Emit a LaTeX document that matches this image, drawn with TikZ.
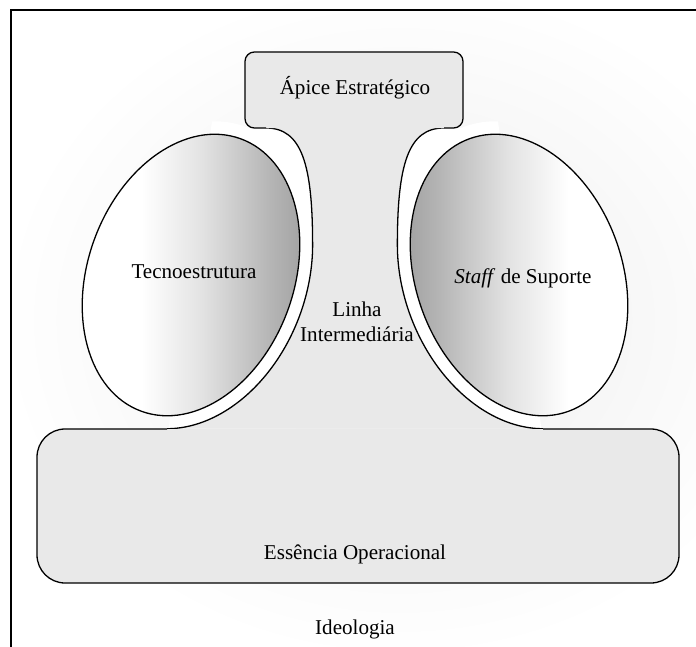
\documentclass[tikz,border=0pt]{standalone}
\usepackage{fontspec}
\setmainfont{Liberation Serif}
\pgfdeclarehorizontalshading{techshade}{100bp}{color(0bp)=(white); color(25bp)=(white); color(40bp)=(white); color(52bp)=(gray!22); color(66bp)=(gray!58); color(75bp)=(gray!78); color(100bp)=(gray!78)}

\begin{document}
\begin{tikzpicture}[x=0.03cm,y=-0.03cm,line width=1.1pt,
	part/.style={fill=gray!17},
	txt/.style={font=\fontsize{18}{21}\selectfont,align=center,inner sep=0pt}]
	\useasboundingbox (0,0) rectangle (696,647);
	\coordinate (lc) at (191,275);
	\coordinate (rc) at (519,275);
	% background
		\shade[inner color=gray!14,outer color=white] (400,320) ellipse [x radius=400, y radius=340];
	% white gaps round the ellipses (inner side only)
		\begin{scope}
			\clip (215,100) -- (167,440) -- (355,440) -- (355,100) -- cycle;
			\fill[white,rotate around={-20:(lc)}] (lc) ellipse [x radius=116, y radius=158];
		\end{scope}
		\begin{scope}
			\clip (495,100) -- (543,440) -- (355,440) -- (355,100) -- cycle;
			\fill[white,rotate around={20:(rc)}] (rc) ellipse [x radius=116, y radius=158];
		\end{scope}
		\fill[white] (240,128) -- (266,128) .. controls (302,128) and (312.6,165) .. (312.6,244.6) -- (240,244.6) -- cycle;
		\fill[white] (470,128) -- (444,128) .. controls (408,128) and (397.4,165) .. (397.4,244.6) -- (470,244.6) -- cycle;
	% middle line
		\fill[part] (266,128) .. controls (302,128) and (312.6,165) .. (312.6,244.6)
			-- plot[domain=-26.4:75,samples=60,variable=\s] ({191+109*cos(\s)-54*sin(\s)},{275+39.7*cos(\s)+148.5*sin(\s)})
			-- plot[domain=-75:26.4,samples=60,variable=\s] ({519-109*cos(\s)-54*sin(\s)},{275+39.7*cos(\s)-148.5*sin(\s)})
			.. controls (397.4,165) and (408,128) .. (444,128) -- cycle;
		\draw (266,128) .. controls (302,128) and (312.6,165) .. (312.6,244.6)
			-- plot[domain=-26.4:75,samples=60,variable=\s] ({191+109*cos(\s)-54*sin(\s)},{275+39.7*cos(\s)+148.5*sin(\s)});
		\draw plot[domain=-75:26.4,samples=60,variable=\s] ({519-109*cos(\s)-54*sin(\s)},{275+39.7*cos(\s)-148.5*sin(\s)})
			.. controls (397.4,165) and (408,128) .. (444,128);
	% ellipses
		\shadedraw[shading=techshade,rotate around={-20:(lc)}] (lc) ellipse [x radius=103, y radius=145];
		\shadedraw[shading=techshade,shading angle=180,rotate around={20:(rc)}] (rc) ellipse [x radius=103, y radius=145];
	% strategic apex
		\fill[part,rounded corners=8] (245,52) rectangle (463,128);
		\draw[rounded corners=8] (266,128) -- (245,128) -- (245,52) -- (463,52) -- (463,128) -- (444,128);
	% operating core
		\fill[part,rounded corners=24] (37,429) rectangle (679,583);
		\draw[rounded corners=24] (167,429) -- (37,429) -- (37,583) -- (679,583) -- (679,429) -- (543,429);
	% frame
		\draw[line width=2pt] (11,647) -- (11,10) -- (696,10);
	% labels
		\node[txt,anchor=base] (apex) at (355,94) {Ápice Estratégico};
		\node[txt,anchor=base] (techno) at (194,278) {Tecnoestrutura};
		\node[txt,anchor=base] (staff) at (523,283) {\textit{Staff} de Suporte};
		\node[txt] (midline) at (357,322) {Linha\\Intermediária};
		\node[txt,anchor=base] (core) at (355,559) {Essência Operacional};
		\node[txt,anchor=base] (ideology) at (355,634) {Ideologia};
\end{tikzpicture}
\end{document}
